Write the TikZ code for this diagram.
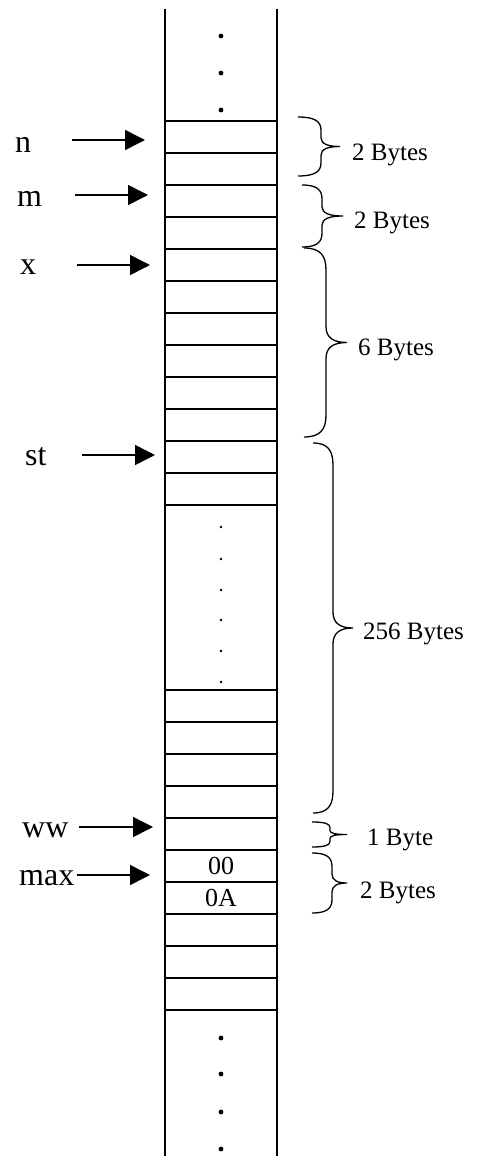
\documentclass[tikz,border=0pt]{standalone}
\usepackage{fontspec}
\setmainfont{Liberation Serif}
\usetikzlibrary{arrows.meta}

\tikzset{
  wall/.style={line width=2.2pt},
  cellline/.style={line width=1.6pt},
  ptr/.style={line width=1.5pt, -{Triangle[length=20pt,width=20pt]}},
  bracepath/.style={line width=1.3pt},
  varlabel/.style={font=\fontsize{32}{32}\selectfont, inner sep=0pt, anchor=base west},
  sizelabel/.style={font=\fontsize{25}{25}\selectfont, inner sep=0pt, anchor=base west},
  celltext/.style={font=\fontsize{26}{26}\selectfont, inner sep=0pt},
}

% curly brace opening to the right: #1 left end x, #2 spine x, #3 tip x, #4 top y, #5 bottom y
\newcommand\membrace[5]{%
  \pgfmathsetmacro\mbMid{(#4+#5)/2}%
  \pgfmathsetmacro\mbHalf{(#5-#4)/2}%
  \pgfmathsetmacro\mbR{min(0.45*\mbHalf,22)}%
  \pgfmathsetmacro\mbQ{min(0.3*\mbHalf,16)}%
  \pgfmathsetmacro\mbCx{#1+0.75*(#2-#1)}%
  \pgfmathsetmacro\mbCm{#2+0.35*(#3-#2)}%
  \draw[bracepath]
    (#1,#4) .. controls (\mbCx,#4) and (#2,#4+0.35*\mbR) .. (#2,#4+\mbR)
    -- (#2,\mbMid-\mbQ)
    .. controls (#2,\mbMid-0.3*\mbQ) and (\mbCm,\mbMid) .. (#3,\mbMid)
    .. controls (\mbCm,\mbMid) and (#2,\mbMid+0.3*\mbQ) .. (#2,\mbMid+\mbQ)
    -- (#2,#5-\mbR)
    .. controls (#2,#5-0.35*\mbR) and (\mbCx,#5) .. (#1,#5);
}

\begin{document}
\begin{tikzpicture}[x=1pt,y=-1pt]
  \useasboundingbox (0,0) rectangle (483,1156);

  % memory column
  \draw[wall] (165,9) -- (165,1156);
  \draw[wall] (277,9) -- (277,1156);
  \foreach \yy in {121,153,185,217,249,281,313,345,377,409,441,473,505,
                   690,722,754,786,818,850,882,914,946,978,1010}
    \draw[cellline] (165,\yy) -- (277,\yy);

  % continuation dots
  \foreach \yy in {36,73,110,1038,1074,1112,1149}
    \fill (221,\yy) circle[radius=2.4pt];
  \foreach \yy in {527,559,590,620,651,682}
    \fill (221,\yy) circle[radius=1.3pt];

  % stored values
  \node[celltext] (v00) at (221,866) {00};
  \node[celltext] (v0A) at (221,898) {0A};

  % variable names and pointers
  \node[varlabel] (ln)   at (15,152) {n};
  \node[varlabel] (lm)   at (17,206) {m};
  \node[varlabel] (lx)   at (20,274) {x};
  \node[varlabel] (lst)  at (25,465) {st};
  \node[varlabel] (lww)  at (22,837) {ww};
  \node[varlabel] (lmax) at (19,885) {max};

  \coordinate (nS) at (72,140);    \coordinate (nT) at (145,140);
  \coordinate (mS) at (75,195);    \coordinate (mT) at (148,195);
  \coordinate (xS) at (77,265);    \coordinate (xT) at (150,265);
  \coordinate (stS) at (82,455);   \coordinate (stT) at (155,455);
  \coordinate (wwS) at (79,827);   \coordinate (wwT) at (153,827);
  \coordinate (maxS) at (77,875);  \coordinate (maxT) at (150,875);

  \draw[ptr] (nS) -- (nT);
  \draw[ptr] (mS) -- (mT);
  \draw[ptr] (xS) -- (xT);
  \draw[ptr] (stS) -- (stT);
  \draw[ptr] (wwS) -- (wwT);
  \draw[ptr] (maxS) -- (maxT);

  % sizes
  \membrace{298}{321}{340}{117}{176}
  \membrace{302}{322}{343}{185}{247}
  \membrace{304}{326}{347}{248}{437}
  \membrace{313}{333}{353}{443}{813}
  \membrace{312}{330}{347}{822}{847}
  \membrace{312}{332}{347}{853}{913}

  \node[sizelabel] (s1) at (352,160) {2 Bytes};
  \node[sizelabel] (s2) at (354,228) {2 Bytes};
  \node[sizelabel] (s3) at (358,355) {6 Bytes};
  \node[sizelabel] (s4) at (363,639) {256 Bytes};
  \node[sizelabel] (s5) at (367,845) {1 Byte};
  \node[sizelabel] (s6) at (360,898) {2 Bytes};
\end{tikzpicture}
\end{document}
